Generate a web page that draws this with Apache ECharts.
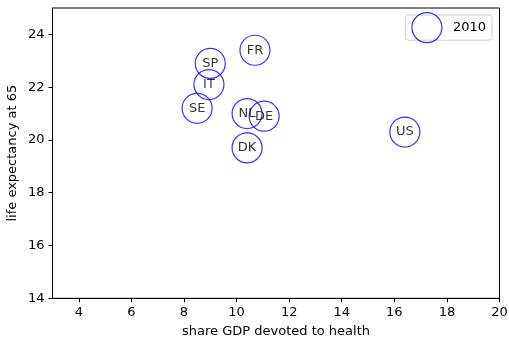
<!DOCTYPE html>
<html><head><meta charset="utf-8">
<script src="https://cdn.jsdelivr.net/npm/echarts@6/dist/echarts.min.js"></script>
<style>html,body{margin:0;padding:0;background:#fff}#c{width:509px;height:339px}</style>
</head><body><div id="c"></div>
<script>
const countries = ['SP','IT','SE','FR','NL','DE','DK','US'];
const gdpShare = [9.0, 8.95, 8.5, 10.7, 10.4, 11.05, 10.4, 16.4];
const lifeExp = [22.9, 22.1, 21.2, 23.4, 21.0, 20.9, 19.7, 20.3];
const xTicks = [4,6,8,10,12,14,16,18,20];
const yTicks = [14,16,18,20,22,24];
const seriesName = '2010';

const data = countries.map((c,i)=>({name:c, value:[gdpShare[i], lifeExp[i]]}));
const font = 'DejaVu Sans';
const fs = 13;
const chart = echarts.init(document.getElementById('c'), null, {renderer:'canvas'});
chart.setOption({
  animation:false,
  textStyle:{fontFamily:font},
  grid:{left:52.5,right:9.5,top:8,bottom:40.7,show:true,borderColor:'#000',borderWidth:1,containLabel:false,outerBoundsMode:'none'},
  legend:{
    right:17, top:15, orient:'horizontal',
    data:[seriesName],
    itemWidth:30,itemHeight:30,itemGap:6,
    padding:[-3,6,-3,6],
    borderColor:'#d0d0d0',borderWidth:1,borderRadius:3,
    textStyle:{fontFamily:font,fontSize:fs,color:'#000',padding:[0,0,0,6]},
    icon:'circle',
    itemStyle:{color:'rgba(0,0,0,0)',borderColor:'blue',borderWidth:1.2}
  },
  xAxis:{
    type:'value',min:3,max:20,
    name:'share GDP devoted to health',nameLocation:'middle',nameGap:27,nameMoveOverlap:false,
    nameTextStyle:{fontFamily:font,fontSize:fs,color:'#000'},
    axisLine:{show:true,lineStyle:{color:'#000',width:1}},
    axisTick:{show:true,length:4,lineStyle:{color:'#000'},customValues:xTicks},
    axisLabel:{fontFamily:font,fontSize:fs,color:'#000',margin:8,customValues:xTicks},
    splitLine:{show:false}
  },
  yAxis:{
    type:'value',min:14,max:25,
    name:'life expectancy at 65',nameLocation:'middle',nameGap:33,nameRotate:90,nameMoveOverlap:false,
    nameTextStyle:{fontFamily:font,fontSize:fs,color:'#000'},
    axisLine:{show:true,lineStyle:{color:'#000',width:1}},
    axisTick:{show:true,length:4,lineStyle:{color:'#000'},customValues:yTicks},
    axisLabel:{fontFamily:font,fontSize:fs,color:'#000',margin:8,customValues:yTicks},
    splitLine:{show:false}
  },
  series:[{
    name:seriesName,type:'scatter',symbol:'circle',symbolSize:30,
    data:data,
    itemStyle:{color:'rgba(0,0,0,0)',borderColor:'blue',borderWidth:1.2},
    label:{show:true,position:'inside',formatter:p=>p.name,color:'#000',fontFamily:font,fontSize:fs},
    emphasis:{disabled:true}
  }]
});
</script></body></html>
